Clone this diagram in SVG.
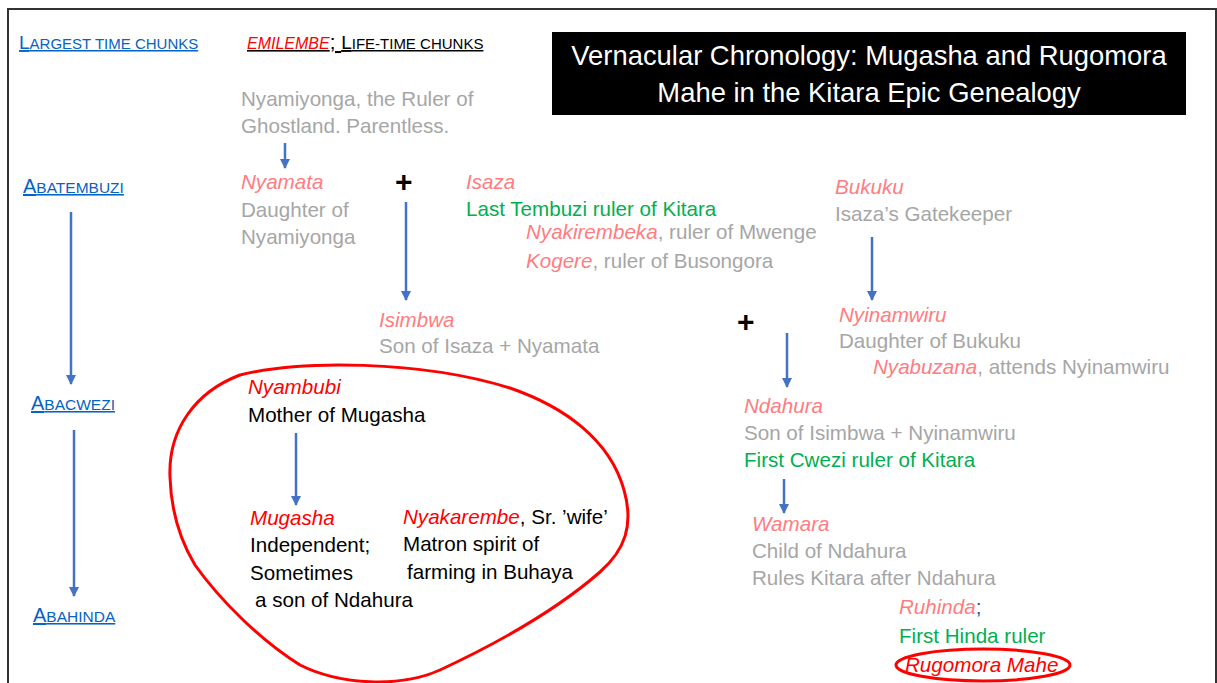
<svg xmlns="http://www.w3.org/2000/svg" width="1217" height="683" viewBox="0 0 1217 683">
<defs>
<marker id="ah" viewBox="0 0 10 10" refX="9" refY="5" markerWidth="4" markerHeight="4" orient="auto" markerUnits="strokeWidth">
<path d="M0,0 L10,5 L0,10 z" fill="#4472C4"/>
</marker>
<style>
text{font-family:"Liberation Sans",Arial,sans-serif;font-size:20.6px}
.g{fill:#A6A6A6}
.p{fill:#FF7C80;font-style:italic}
.r{fill:#FF0000;font-style:italic}
.k{fill:#000}
.gr{fill:#00B050}
.b{fill:#0563C1;text-decoration:underline}
.sc{font-size:15px}
.big{font-size:19px}
.esc{font-size:15.5px}
.ebig{font-size:20px}
.plus{font-size:30px;font-weight:bold;fill:#000}
.title{fill:#fff;font-size:27.4px;text-anchor:middle}
.arr{stroke:#4472C4;stroke-width:2.5;fill:none;marker-end:url(#ah)}
</style>
</defs>
<rect x="0" y="0" width="1217" height="683" fill="#fff"/>
<path d="M8,700 V9 H1216 V700" fill="none" stroke="#333" stroke-width="2"/>

<g id="title">
<rect x="552" y="32" width="634" height="83" fill="#000"/>
<text class="title" x="869" y="65">Vernacular Chronology: Mugasha and Rugomora</text>
<text class="title" x="869" y="102">Mahe in the Kitara Epic Genealogy</text>
</g>

<g id="headers">
<text class="b" x="19" y="49"><tspan class="big">L</tspan><tspan class="sc">ARGEST TIME CHUNKS</tspan></text>
<text x="247" y="49" style="text-decoration:underline"><tspan class="r" style="font-size:16px">EMILEMBE</tspan><tspan class="k">; </tspan><tspan class="k big">L</tspan><tspan class="k sc">IFE-TIME CHUNKS</tspan></text>
</g>

<g id="eras">
<text class="b" x="23" y="193"><tspan class="ebig">A</tspan><tspan class="esc">BATEMBUZI</tspan></text>
<text class="b" x="31" y="410"><tspan class="ebig">A</tspan><tspan class="esc">BACWEZI</tspan></text>
<text class="b" x="33" y="622"><tspan class="ebig">A</tspan><tspan class="esc">BAHINDA</tspan></text>
</g>

<g id="nyamiyonga">
<text class="g" x="241" y="106">Nyamiyonga, the Ruler of</text>
<text class="g" x="241" y="133">Ghostland. Parentless.</text>
</g>
<g id="nyamata">
<text class="p" x="241" y="189">Nyamata</text>
<text class="g" x="241" y="217">Daughter of</text>
<text class="g" x="241" y="244">Nyamiyonga</text>
</g>
<g id="plus1"><text class="plus" x="395" y="192">+</text></g>
<g id="isaza">
<text class="p" x="466" y="189">Isaza</text>
<text class="gr" x="466" y="216">Last Tembuzi ruler of Kitara</text>
<text x="526" y="239"><tspan class="p">Nyakirembeka</tspan><tspan class="g">, ruler of Mwenge</tspan></text>
<text x="526" y="268"><tspan class="p">Kogere</tspan><tspan class="g">, ruler of Busongora</tspan></text>
</g>
<g id="bukuku">
<text class="p" x="835" y="194">Bukuku</text>
<text class="g" x="835" y="221">Isaza’s Gatekeeper</text>
</g>
<g id="isimbwa">
<text class="p" x="379" y="327">Isimbwa</text>
<text class="g" x="379" y="353">Son of Isaza + Nyamata</text>
</g>
<g id="plus2"><text class="plus" x="737" y="332">+</text></g>
<g id="nyinamwiru">
<text class="p" x="839" y="322">Nyinamwiru</text>
<text class="g" x="839" y="348">Daughter of Bukuku</text>
<text x="873" y="374"><tspan class="p">Nyabuzana</tspan><tspan class="g">, attends Nyinamwiru</tspan></text>
</g>
<g id="ndahura">
<text class="p" x="744" y="413">Ndahura</text>
<text class="g" x="744" y="440">Son of Isimbwa + Nyinamwiru</text>
<text class="gr" x="744" y="467">First Cwezi ruler of Kitara</text>
</g>
<g id="wamara">
<text class="p" x="752" y="531">Wamara</text>
<text class="g" x="752" y="558">Child of Ndahura</text>
<text class="g" x="752" y="585">Rules Kitara after Ndahura</text>
</g>
<g id="ruhinda">
<text x="899" y="614"><tspan class="p">Ruhinda</tspan><tspan fill="#0563C1">;</tspan></text>
<text class="gr" x="899" y="643">First Hinda ruler</text>
</g>
<g id="rugomora">
<ellipse cx="983" cy="665" rx="87" ry="16" fill="none" stroke="#FF0000" stroke-width="3"/>
<text class="r" x="905" y="672">Rugomora Mahe</text>
</g>

<g id="mugasha-group">
<path d="M170,477 C168,430 195,392 240,375 C300,360 420,360 510,388 C565,407 610,440 624,490 C634,525 625,550 600,572 C560,607 500,642 440,670 C400,688 340,685 300,665 C260,640 220,600 195,565 C180,540 171,510 170,477 Z" fill="none" stroke="#FF0000" stroke-width="3"/>
</g>
<g id="nyambubi">
<text class="r" x="248" y="394">Nyambubi</text>
<text class="k" x="248" y="422">Mother of Mugasha</text>
</g>
<g id="mugasha">
<text class="r" x="250" y="525">Mugasha</text>
<text class="k" x="250" y="552">Independent;</text>
<text class="k" x="250" y="580">Sometimes</text>
<text class="k" x="255" y="607">a son of Ndahura</text>
</g>
<g id="nyakarembe">
<text x="403" y="524"><tspan class="r">Nyakarembe</tspan><tspan class="k">, Sr. ’wife’</tspan></text>
<text class="k" x="403" y="551">Matron spirit of</text>
<text class="k" x="407" y="579">farming in Buhaya</text>
</g>

<g id="connectors">
<line class="arr" x1="285" y1="143" x2="285" y2="168"/>
<line class="arr" x1="406" y1="202" x2="406" y2="300"/>
<line class="arr" x1="872" y1="237" x2="872" y2="300"/>
<line class="arr" x1="787" y1="333" x2="787" y2="387"/>
<line class="arr" x1="784" y1="479" x2="784" y2="513"/>
<line class="arr" x1="296" y1="433" x2="296" y2="505"/>
<line class="arr" x1="71" y1="212" x2="71" y2="384"/>
<line class="arr" x1="74" y1="430" x2="74" y2="596"/>
</g>
</svg>
